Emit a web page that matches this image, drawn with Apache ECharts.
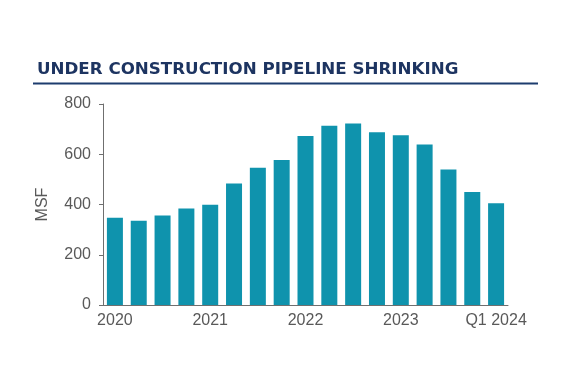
<!DOCTYPE html>
<html>
<head>
<meta charset="utf-8">
<script src="https://cdn.jsdelivr.net/npm/echarts@6/dist/echarts.min.js"></script>
<style>
html,body{margin:0;padding:0;background:#fff;}
#chart{width:573px;height:373px;}
</style>
</head>
<body>
<div id="chart"></div>
<script>
var categories = ["2020","Q2 2020","Q3 2020","Q4 2020","2021","Q2 2021","Q3 2021","Q4 2021","2022","Q2 2022","Q3 2022","Q4 2022","2023","Q2 2023","Q3 2023","Q4 2023","Q1 2024"];
var shownLabels = ["2020","2021","2022","2023","Q1 2024"];
var underConstruction = [347,335,356,384,399,484,546,577,673,713,722,688,676,639,539,450,405];
var yTicks = [0,200,400,600,800];

var chart = echarts.init(document.getElementById('chart'), null, {renderer:'canvas'});
chart.setOption({
  animation:false,
  backgroundColor:'#ffffff',
  title:{
    text:'UNDER CONSTRUCTION PIPELINE SHRINKING',
    left:32, top:56,
    textStyle:{fontFamily:'DejaVu Sans', fontWeight:'bold', fontSize:16.7, color:'#1d3461'}
  },
  graphic:[{
    type:'line',
    shape:{x1:33,y1:83.5,x2:538,y2:83.5},
    style:{stroke:'#1d3c6e', lineWidth:2}
  }],
  grid:{left:103, right:65, top:104, bottom:68},
  xAxis:{
    type:'category',
    data:categories,
    axisLine:{lineStyle:{color:'#6f6f6f', width:1}},
    axisTick:{show:false},
    axisLabel:{
      interval:0,
      color:'#595959', fontFamily:'Liberation Sans', fontSize:16, margin:8,
      formatter:function(v){ return shownLabels.indexOf(v)>=0 ? v : ''; }
    }
  },
  yAxis:{
    type:'value',
    min:yTicks[0], max:yTicks[yTicks.length-1], interval:200,
    name:'MSF', nameLocation:'middle', nameGap:52, nameRotate:90,
    nameTextStyle:{color:'#595959', fontFamily:'Liberation Sans', fontSize:16},
    axisLine:{show:true, lineStyle:{color:'#6f6f6f', width:1}},
    axisTick:{show:true, length:4, lineStyle:{color:'#6f6f6f'}},
    splitLine:{show:false},
    axisLabel:{color:'#595959', fontFamily:'Liberation Sans', fontSize:16, margin:12}
  },
  series:[{
    type:'bar',
    data:underConstruction,
    barWidth:16,
    itemStyle:{color:'#0f93ad'}
  }]
});
</script>
</body>
</html>
